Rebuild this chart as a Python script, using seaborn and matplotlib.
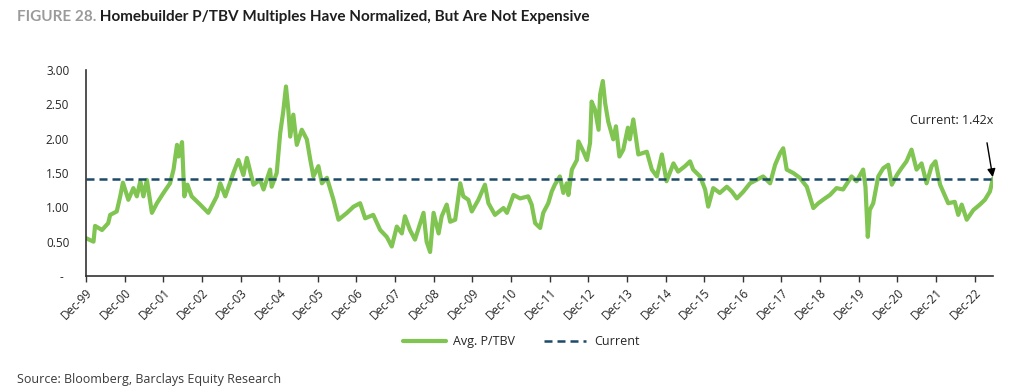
import numpy as np
import pandas as pd
import matplotlib
matplotlib.use("Agg")
import matplotlib.pyplot as plt
import seaborn as sns

# ---- data ----
years = [
    1999.92, 2000.11, 2000.15, 2000.33, 2000.49, 2000.54, 2000.71, 2000.80, 2000.87, 2001.01,
    2001.14, 2001.23, 2001.32, 2001.40, 2001.49, 2001.62, 2001.75, 2001.92, 2002.09, 2002.18,
    2002.27, 2002.31, 2002.40, 2002.46, 2002.54, 2002.65, 2002.87, 2003.08, 2003.30, 2003.39,
    2003.52, 2003.73, 2003.86, 2003.99, 2004.08, 2004.25, 2004.42, 2004.51, 2004.68, 2004.72,
    2004.85, 2004.94, 2005.02, 2005.09, 2005.15, 2005.20, 2005.28, 2005.37, 2005.50, 2005.63,
    2005.72, 2005.80, 2005.93, 2006.02, 2006.15, 2006.32, 2006.45, 2006.67, 2006.84, 2007.01,
    2007.14, 2007.35, 2007.53, 2007.70, 2007.83, 2007.96, 2008.09, 2008.17, 2008.30, 2008.43,
    2008.65, 2008.73, 2008.82, 2008.91, 2009.04, 2009.12, 2009.25, 2009.34, 2009.47, 2009.60,
    2009.68, 2009.81, 2009.90, 2010.07, 2010.24, 2010.33, 2010.50, 2010.72, 2010.81, 2010.98,
    2011.15, 2011.36, 2011.45, 2011.54, 2011.67, 2011.75, 2011.88, 2011.97, 2012.05, 2012.18,
    2012.27, 2012.36, 2012.40, 2012.49, 2012.62, 2012.66, 2012.79, 2012.88, 2012.96, 2013.00,
    2013.09, 2013.18, 2013.22, 2013.29, 2013.35, 2013.43, 2013.56, 2013.63, 2013.72, 2013.82,
    2013.94, 2013.99, 2014.08, 2014.21, 2014.43, 2014.56, 2014.69, 2014.82, 2014.94, 2015.12,
    2015.24, 2015.42, 2015.55, 2015.63, 2015.81, 2015.94, 2016.02, 2016.15, 2016.32, 2016.50,
    2016.63, 2016.76, 2016.93, 2017.10, 2017.27, 2017.44, 2017.62, 2017.75, 2017.88, 2017.96,
    2018.05, 2018.22, 2018.39, 2018.57, 2018.74, 2018.87, 2019.04, 2019.17, 2019.34, 2019.51,
    2019.73, 2019.86, 2020.03, 2020.09, 2020.15, 2020.20, 2020.29, 2020.42, 2020.55, 2020.68,
    2020.77, 2020.90, 2021.02, 2021.15, 2021.28, 2021.41, 2021.54, 2021.67, 2021.80, 2021.90,
    2022.02, 2022.23, 2022.40, 2022.49, 2022.58, 2022.71, 2022.88, 2023.05, 2023.18, 2023.31,
    2023.39,
]
avg_ptbv = [
    0.55, 0.50, 0.73, 0.67, 0.77, 0.89, 0.94, 1.16, 1.36, 1.11,
    1.28, 1.16, 1.38, 1.16, 1.40, 0.92, 1.06, 1.21, 1.35, 1.55,
    1.91, 1.74, 1.95, 1.16, 1.33, 1.16, 1.04, 0.92, 1.16, 1.35,
    1.16, 1.50, 1.69, 1.47, 1.72, 1.33, 1.40, 1.26, 1.55, 1.30,
    1.50, 2.08, 2.40, 2.76, 2.42, 2.03, 2.35, 1.91, 2.13, 1.99,
    1.69, 1.45, 1.60, 1.35, 1.43, 1.11, 0.82, 0.92, 1.01, 1.06,
    0.84, 0.89, 0.67, 0.57, 0.43, 0.72, 0.62, 0.87, 0.67, 0.53,
    0.92, 0.50, 0.35, 0.92, 0.62, 0.87, 1.04, 0.79, 0.82, 1.35,
    1.16, 1.11, 0.94, 1.11, 1.33, 1.06, 0.89, 0.99, 0.92, 1.18,
    1.13, 1.16, 1.04, 0.77, 0.70, 0.92, 1.06, 1.23, 1.33, 1.45,
    1.21, 1.35, 1.18, 1.55, 1.69, 1.96, 1.81, 1.69, 1.94, 2.54,
    2.42, 2.13, 2.64, 2.84, 2.52, 2.25, 1.99, 2.18, 1.74, 1.84,
    2.16, 1.99, 2.28, 1.77, 1.81, 1.55, 1.45, 1.77, 1.38, 1.64,
    1.52, 1.60, 1.67, 1.55, 1.45, 1.26, 1.01, 1.28, 1.21, 1.30,
    1.23, 1.13, 1.23, 1.35, 1.40, 1.45, 1.35, 1.62, 1.79, 1.86,
    1.55, 1.50, 1.43, 1.30, 0.99, 1.06, 1.13, 1.18, 1.28, 1.26,
    1.45, 1.38, 1.55, 1.30, 0.57, 0.96, 1.06, 1.45, 1.57, 1.62,
    1.33, 1.47, 1.57, 1.67, 1.84, 1.55, 1.64, 1.35, 1.60, 1.67,
    1.33, 1.06, 1.08, 0.89, 1.04, 0.82, 0.96, 1.04, 1.11, 1.23,
    1.42,
]
current_value = 1.42
tick_years = list(range(1999, 2023))
tick_labels = [f"Dec-{y % 100:02d}" for y in tick_years]
y_ticks = [0, 0.5, 1.0, 1.5, 2.0, 2.5, 3.0]
y_tick_labels = ["-  "] + [f"{v:.2f}" for v in y_ticks[1:]]

GREEN = "#80C451"
NAVY = "#1D4A68"
TEXT = "#262626"


def dec_to_ts(y):
    yr = int(np.floor(y))
    start = pd.Timestamp(yr, 1, 1)
    end = pd.Timestamp(yr + 1, 1, 1)
    return start + (end - start) * (y - yr)


df = pd.DataFrame({"date": [dec_to_ts(y) for y in years], "ratio": avg_ptbv})

sns.set_style("white")
plt.rcParams["font.family"] = ["Open Sans", "DejaVu Sans"]

fig = plt.figure(figsize=(10.32, 3.92), dpi=100)
ax = fig.add_axes([0.0833, 0.2959, 0.8789, 0.5255])

sns.lineplot(data=df, x="date", y="ratio", ax=ax, color=GREEN, lw=3.0,
             label="Avg. P/TBV", legend=False)
ax.axhline(current_value, color=NAVY, lw=1.8, ls=(0, (3.2, 2.0)), label="Current")

ax.set_xlim(pd.Timestamp(1999, 12, 1), df["date"].iloc[-1])
ax.set_ylim(0, 3)
ax.set_xticks([pd.Timestamp(y, 12, 1) for y in tick_years])
ax.set_xticklabels(tick_labels)
ax.set_yticks(y_ticks)
ax.set_yticklabels(y_tick_labels)
ax.set_xlabel("")
ax.set_ylabel("")

for s in ["top", "right"]:
    ax.spines[s].set_visible(False)
for s in ["left", "bottom"]:
    ax.spines[s].set_color("#333333")
    ax.spines[s].set_linewidth(1.2)

ax.tick_params(axis="x", length=4, width=1, color="#333333", pad=3,
               labelsize=8.5, labelcolor=TEXT, bottom=True)
ax.tick_params(axis="y", length=0, pad=12, labelsize=8.5, labelcolor=TEXT)
for lbl in ax.get_xticklabels():
    lbl.set_rotation(45)
    lbl.set_ha("right")
    lbl.set_rotation_mode("anchor")

last_date = df["date"].iloc[-1]
ax.annotate("Current: 1.42x", xy=(last_date, current_value), xytext=(-29.5, 41.5),
            textcoords="offset points", ha="center", va="center", fontsize=9, color=TEXT)
ax.annotate("", xy=(last_date, current_value), xytext=(-4.3, 25.7),
            textcoords="offset points",
            arrowprops=dict(arrowstyle="-|>", color="black", lw=1.0,
                            mutation_scale=12, shrinkA=0, shrinkB=1))

handles, labels = ax.get_legend_handles_labels()
fig.legend(handles, labels, loc="center", bbox_to_anchor=(0.505, 0.128), ncol=2,
           frameon=False, fontsize=9, handlelength=3.4, columnspacing=2.3,
           handletextpad=0.6, labelcolor=TEXT)

t1 = fig.text(17 / 1032, 1 - 17 / 392, "FIGURE 28.", fontsize=11, fontweight="bold",
              color="#9A9A9A", va="center", ha="left", family=["Lato", "DejaVu Sans"])
ax.annotate(" Homebuilder P/TBV Multiples Have Normalized, But Are Not Expensive",
            xy=(1, 0), xycoords=t1, ha="left", va="bottom", fontsize=11,
            fontweight="bold", color="#1E1E1E", family=["Lato", "DejaVu Sans"],
            annotation_clip=False)

fig.text(17 / 1032, 1 - 379 / 392, "Source: Bloomberg, Barclays Equity Research",
         fontsize=9, color="#3A3A3A", va="center", ha="left")

fig.savefig("out.png", dpi=100)
